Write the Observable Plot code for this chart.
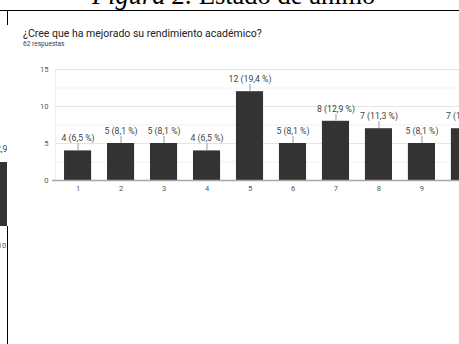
<!DOCTYPE html>
<html>
<head>
<meta charset="utf-8">
<script src="https://cdn.jsdelivr.net/npm/d3@7"></script>
<script src="https://cdn.jsdelivr.net/npm/@observablehq/plot@0.6"></script>
<style>
  html, body { margin: 0; padding: 0; background: #fff; }
  #page { position: relative; width: 459px; height: 344px; overflow: hidden; background: #fff; }
  #main { position: absolute; left: 0; top: 0; width: 459px; height: 344px; overflow: hidden; }
  #main svg { position: absolute; left: 0; top: 0; max-width: none !important; }
  #leftFrag { position: absolute; left: 0; top: 0; width: 7px; height: 344px; overflow: hidden; }
  #leftFrag svg { position: absolute; left: -215.5px; top: 0; max-width: none !important; }
  .fig { position: absolute; left: 92px; top: -18px; font-family: "Liberation Serif", "Times New Roman", serif; font-size: 26.5px; line-height: 26.5px; color: #000; white-space: nowrap; }
  .hline { position: absolute; left: 0; top: 9.5px; width: 459px; height: 1.3px; background: #000; }
  .vline1 { position: absolute; left: 6.5px; top: 10px; width: 1.3px; height: 15px; background: #000; }
  .vline2 { position: absolute; left: 7px; top: 226px; width: 1.4px; height: 118px; background: #000; }
  .q { position: absolute; left: 23px; top: 26.5px; font-family: Roboto, sans-serif; font-size: 10.5px; color: #202124; white-space: nowrap; }
  .n { position: absolute; left: 23px; top: 40px; font-family: Roboto, sans-serif; font-size: 6.6px; color: #3c4043; white-space: nowrap; }
</style>
</head>
<body>
<div id="page">
  <div class="fig"><i>Figura 2.</i> Estado de ánimo</div>
  <div class="hline"></div>
  <div class="vline1"></div>
  <div id="main"></div>
  <div id="leftFrag"></div>
  <div class="vline2"></div>
  <div class="q">¿Cree que ha mejorado su rendimiento académico?</div>
  <div class="n">62 respuestas</div>
</div>
<script>
// Main chart data
const categories = ["1", "2", "3", "4", "5", "6", "7", "8", "9", "10"];
const counts = [4, 5, 5, 4, 12, 5, 8, 7, 5, 7];
const valueLabels = ["4 (6,5 %)", "5 (8,1 %)", "5 (8,1 %)", "4 (6,5 %)", "12 (19,4 %)", "5 (8,1 %)", "8 (12,9 %)", "7 (11,3 %)", "5 (8,1 %)", "7 (11,3 %)"];
const yTicks = [0, 5, 10, 15];
const yMinorGrid = [2.5, 7.5, 12.5];

// Fragment of the neighbouring chart (cut off at the left edge)
const leftCategories = ["10"];
const leftCounts = [8];
const leftLabels = ["8 (12,9 %)"];

const data = categories.map((c, i) => ({cat: c, count: counts[i], label: valueLabels[i]}));
const leftData = leftCategories.map((c, i) => ({cat: c, count: leftCounts[i], label: leftLabels[i]}));

const leaderUnits = 0.95;

const main = Plot.plot({
  width: 500,
  height: 344,
  marginLeft: 55,
  marginRight: 13,
  marginTop: 69,
  marginBottom: 164,
  style: {fontFamily: "Roboto, sans-serif", fontSize: "7.5px", background: "transparent", overflow: "visible"},
  x: {type: "band", domain: categories, paddingInner: 0.37, paddingOuter: 0.21, round: false},
  y: {domain: [0, 15]},
  marks: [
    Plot.ruleY(yMinorGrid, {stroke: "#f1f1f1", strokeWidth: 1}),
    Plot.ruleY(yTicks.filter(t => t > 0), {stroke: "#e4e4e4", strokeWidth: 1}),
    Plot.frame({anchor: "left", stroke: "#eeeeee"}),
    Plot.barY(data, {x: "cat", y: "count", fill: "#333333"}),
    Plot.ruleX(data, {x: "cat", y1: "count", y2: d => d.count + leaderUnits, stroke: "#9a9a9a", strokeWidth: 1}),
    Plot.text(data, {x: "cat", y: "count", text: "label", dy: -12.5, fill: "#444444", fontSize: 8.7}),
    Plot.ruleY([0], {stroke: "#a8a8a8", strokeWidth: 1.5, insetLeft: -3}),
    Plot.axisY({ticks: yTicks, tickSize: 0, tickPadding: 7, label: null, fill: "#555555", fontSize: 7.5}),
    Plot.axisX({tickSize: 0, tickPadding: 5, label: null, fill: "#555555", fontSize: 7.5})
  ]
});
document.getElementById("main").appendChild(main);

const left = Plot.plot({
  width: 240,
  height: 344,
  marginLeft: 192,
  marginRight: 3,
  marginTop: 106,
  marginBottom: 118,
  style: {fontFamily: "Roboto, sans-serif", fontSize: "7.5px", background: "transparent"},
  x: {type: "band", domain: leftCategories, paddingInner: 0.37, paddingOuter: 0.21, round: false},
  y: {domain: [0, 15]},
  marks: [
    Plot.barY(leftData, {x: "cat", y: "count", fill: "#333333"}),
    Plot.text(leftData, {x: "cat", y: "count", text: "label", dy: -13, fill: "#444444", fontSize: 8.7}),
    Plot.axisX({tickSize: 0, tickPadding: 16, label: null, fill: "#555555", fontSize: 7.5, dx: 2})
  ]
});
document.getElementById("leftFrag").appendChild(left);
</script>
</body>
</html>
